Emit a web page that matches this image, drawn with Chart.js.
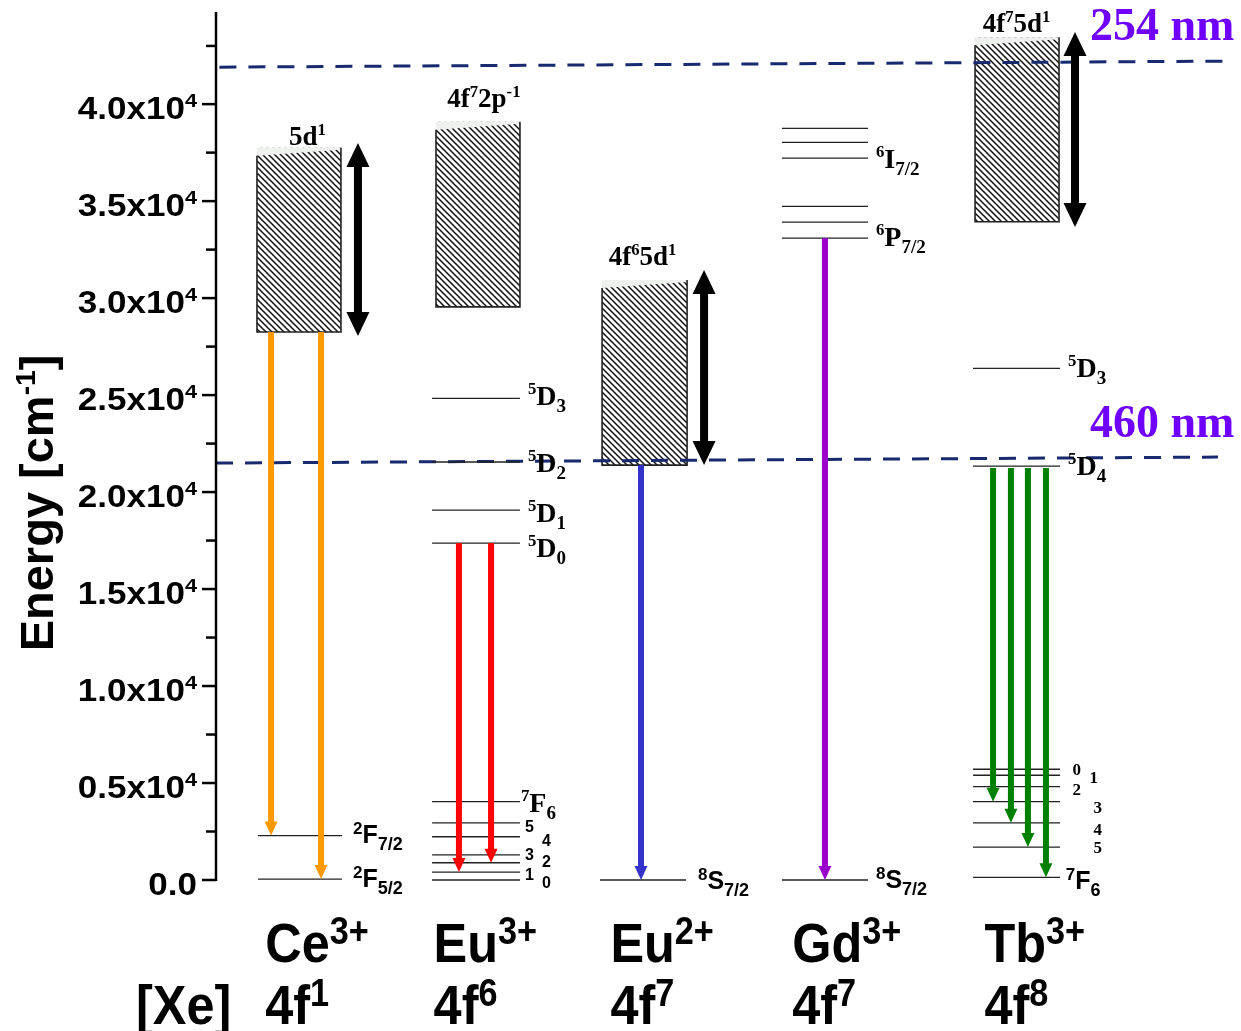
<!DOCTYPE html>
<html>
<head>
<meta charset="utf-8">
<script src="https://cdn.jsdelivr.net/npm/chart.js@4.4.1/dist/chart.umd.min.js"></script>
<style>
  html, body { margin: 0; padding: 0; background: #fff; }
  canvas { display: block; }
</style>
</head>
<body>
<canvas id="levels" width="1241" height="1031"></canvas>
<script>
// ion columns (x in column units, energy in cm-1)
const ionNames = ['Ce', 'Eu', 'Eu', 'Gd', 'Tb'];
const ionCharges = ['3+', '3+', '2+', '3+', '3+'];
const ionConfigs = ['4f^{1}', '4f^{6}', '4f^{7}', '4f^{7}', '4f^{8}'];
const ionLabelX = [0.29, 1.28, 2.32, 3.39, 4.52];

const levelSpans = [[0.247, 0.741], [1.271, 1.788], [2.259, 2.765], [3.329, 3.835], [4.453, 4.965]];
const ceLevels = [50, 2290];
const eu3Levels = [0, 410, 890, 1300, 2230, 2950, 4040, 17370, 19070, 21550, 24830];
const eu2Levels = [0];
const gdLevels = [0, 33090, 33920, 34730, 37220, 38030, 38750];
const tbLevels = [140, 1700, 2950, 4040, 4810, 5400, 5710, 21340, 26380];

// 5d / charge-transfer bands
const bandX = [[0.241, 0.735], [1.294, 1.788], [2.271, 2.771], [4.465, 4.959]];
const bandLow = [28250, 29550, 21390, 33940];
const bandHigh = [37750, 39090, 30930, 43450];
const bandNames = ['5d^{1}', '4f^{7}2p^{-1}', '4f^{6}5d^{1}', '4f^{7}5d^{1}'];
const bandNameX = [0.43, 1.36, 2.31, 4.51];
const bandNameY = [37890, 39850, 31700, 43720];

// double arrows (band width)
const widthArrowX = [0.835, 2.871, 5.053];
const widthArrowTop = [38000, 31450, 43720];
const widthArrowBottom = [28050, 21400, 33670];

// emission arrows
const emitX = [0.324, 0.618, 1.429, 1.618, 2.5, 3.582, 4.571, 4.676, 4.776, 4.882];
const emitFrom = [28250, 28250, 17370, 17370, 21390, 33090, 21240, 21240, 21240, 21240];
const emitTo = [2290, 50, 410, 890, 0, 0, 4040, 2950, 1700, 140];
const emitColors = ['#ff9900', '#ff9900', '#ff0000', '#ff0000', '#3333cc', '#9900cc',
                    '#008000', '#008000', '#008000', '#008000'];

// excitation wavelengths (dashed)
const dashX = [[0.02, 5.935], [0.0, 5.894]];
const dashY = [[41907, 42216], [21495, 21804]];
const dashNames = ['254 nm', '460 nm'];
const dashNameX = [5.141, 5.141];
const dashNameY = [43310, 22840];

// term labels: [x, y, text, font]
const termLabels = [
  [0.806, 1910, '^{2}F_{7/2}', 'sans'], [0.806, -360, '^{2}F_{5/2}', 'sans'],
  [1.835, 24490, '^{5}D_{3}', 'serif'], [1.835, 21030, '^{5}D_{2}', 'serif'],
  [1.835, 18460, '^{5}D_{1}', 'serif'], [1.835, 16650, '^{5}D_{0}', 'serif'],
  [1.794, 3510, '^{7}F_{6}', 'serif'],
  [2.835, -460, '^{8}S_{7/2}', 'sans'],
  [3.882, 36710, '^{6}I_{7/2}', 'serif'], [3.882, 32690, '^{6}P_{7/2}', 'serif'],
  [3.882, -410, '^{8}S_{7/2}', 'sans'],
  [5.012, 25930, '^{5}D_{3}', 'serif'], [5.012, 20880, '^{5}D_{4}', 'serif'],
  [4.999, -460, '^{7}F_{6}', 'sans']
];
// J numbers of the 7F multiplets
const eu3J = ['5', '4', '3', '2', '1', '0'];
const eu3JX = [1.818, 1.918, 1.818, 1.918, 1.818, 1.918];
const eu3JY = [2470, 1750, 1030, 670, 0, -410];
const tbJ = ['0', '1', '2', '3', '4', '5'];
const tbJX = [5.038, 5.138, 5.038, 5.162, 5.162, 5.162];
const tbJY = [5410, 4990, 4380, 3450, 2320, 1390];

const majorTicks = [0, 5000, 10000, 15000, 20000, 25000, 30000, 35000, 40000];
const tickLabels = ['0.0', '0.5x10^{4}', '1.0x10^{4}', '1.5x10^{4}', '2.0x10^{4}',
                    '2.5x10^{4}', '3.0x10^{4}', '3.5x10^{4}', '4.0x10^{4}'];
const minorTicks = [2500, 7500, 12500, 17500, 22500, 27500, 32500, 37500, 43000];

const SANS = '"Liberation Sans", Arial, sans-serif';
const SERIF = '"Liberation Serif", "Times New Roman", serif';

function parseRich(s) {
  const out = [];
  const re = /\^\{([^}]*)\}|_\{([^}]*)\}|([^^_]+)/g;
  let m;
  while ((m = re.exec(s))) {
    if (m[1] !== undefined) out.push({ t: m[1], k: 'sup' });
    else if (m[2] !== undefined) out.push({ t: m[2], k: 'sub' });
    else out.push({ t: m[3], k: 'n' });
  }
  return out;
}

function drawRich(ctx, s, x, y, o) {
  const size = o.size, fam = o.family;
  const parts = parseRich(s).map(p => {
    const sz = p.k === 'n' ? size : p.k === 'sup' ? size * (o.supScale || 0.6) : size * (o.subScale || 0.65);
    const dy = p.k === 'sup' ? -size * (o.supRise || 0.4) : p.k === 'sub' ? size * (o.subDrop || 0.22) : 0;
    ctx.font = 'bold ' + sz + 'px ' + fam;
    return { t: p.t, font: ctx.font, dy: dy, w: ctx.measureText(p.t).width };
  });
  const total = parts.reduce((a, p) => a + p.w, 0);
  ctx.save();
  ctx.translate(x, y);
  if (o.rotate) ctx.rotate(o.rotate);
  ctx.scale(o.scaleX || 1, 1);
  ctx.fillStyle = o.color || '#000';
  ctx.textBaseline = 'alphabetic';
  ctx.textAlign = 'left';
  let cx = o.align === 'center' ? -total / 2 : o.align === 'right' ? -total : 0;
  parts.forEach(p => {
    ctx.font = p.font;
    ctx.fillText(p.t, cx, p.dy);
    cx += p.w;
  });
  ctx.restore();
}

// head helper: tip at (x, tip), base at tip - dir*len
function head(ctx, x, tip, dir, w, len) {
  ctx.beginPath();
  ctx.moveTo(x - w / 2, tip - dir * len);
  ctx.lineTo(x + w / 2, tip - dir * len);
  ctx.lineTo(x, tip);
  ctx.closePath();
  ctx.fill();
}

// y0 = start pixel, y1 = tip pixel (downward arrows here)
function arrow(ctx, x, y0, y1, shaft, headW, headL, color, both) {
  ctx.save();
  ctx.fillStyle = color;
  const dir = y1 > y0 ? 1 : -1;
  const a = both ? y0 + dir * (headL - 1) : y0;
  const b = y1 - dir * (headL - 1);
  ctx.fillRect(x - shaft / 2, Math.min(a, b), shaft, Math.abs(b - a));
  head(ctx, x, y1, dir, headW, headL);
  if (both) head(ctx, x, y0, -dir, headW, headL);
  ctx.restore();
}

function hatchTile() {
  const c = document.createElement('canvas');
  c.width = c.height = 6;
  const g = c.getContext('2d');
  g.fillStyle = '#fff';
  g.fillRect(0, 0, 6, 6);
  g.strokeStyle = '#111';
  g.lineWidth = 1.5;
  g.beginPath();
  g.moveTo(-1, -1); g.lineTo(7, 7);
  g.moveTo(-1, 5); g.lineTo(1, 7);
  g.moveTo(5, -1); g.lineTo(7, 1);
  g.stroke();
  return c;
}

const datasets = [];
[ceLevels, eu3Levels, eu2Levels, gdLevels, tbLevels].forEach((lv, i) => {
  lv.forEach(e => {
    datasets.push({
      data: [{ x: levelSpans[i][0], y: e }, { x: levelSpans[i][1], y: e }],
      borderColor: '#222', borderWidth: 1.3, pointRadius: 0, showLine: true, clip: false
    });
  });
});
dashX.forEach((xx, i) => {
  datasets.push({
    data: [{ x: xx[0], y: dashY[i][0] }, { x: xx[1], y: dashY[i][1] }],
    borderColor: '#17296f', borderWidth: 3, borderDash: [17, 12], pointRadius: 0,
    showLine: true, clip: false
  });
});

const diagramPlugin = {
  id: 'diagram',
  beforeDatasetsDraw(chart) {
    const ctx = chart.ctx, xs = chart.scales.x, ys = chart.scales.y;
    const pat = ctx.createPattern(hatchTile(), 'repeat');
    bandX.forEach((bx, i) => {
      const l = xs.getPixelForValue(bx[0]), r = xs.getPixelForValue(bx[1]);
      const t = ys.getPixelForValue(bandHigh[i]), b = ys.getPixelForValue(bandLow[i]);
      ctx.save();
      ctx.fillStyle = pat;
      ctx.fillRect(l, t, r - l, b - t);
      ctx.fillStyle = '#eef1ee';
      ctx.beginPath();
      ctx.moveTo(l, t); ctx.lineTo(r, t); ctx.lineTo(r, t + 2); ctx.lineTo(l, t + 8);
      ctx.closePath();
      ctx.fill();
      ctx.strokeStyle = '#222';
      ctx.lineWidth = 1.6;
      ctx.beginPath();
      ctx.moveTo(l, t + 8); ctx.lineTo(l, b); ctx.lineTo(r, b); ctx.lineTo(r, t);
      ctx.stroke();
      ctx.restore();
      drawRich(ctx, bandNames[i], xs.getPixelForValue(bandNameX[i]), ys.getPixelForValue(bandNameY[i]),
        { size: 27, family: SERIF, supScale: 0.62, supRise: 0.36 });
    });
  },
  afterDatasetsDraw(chart) {
    const ctx = chart.ctx, xs = chart.scales.x, ys = chart.scales.y, area = chart.chartArea;
    const px = v => xs.getPixelForValue(v), py = v => ys.getPixelForValue(v);

    emitX.forEach((x, i) => {
      arrow(ctx, px(x), py(emitFrom[i]), py(emitTo[i]), 6, 13, 14, emitColors[i], false);
    });
    widthArrowX.forEach((x, i) => {
      arrow(ctx, px(x), py(widthArrowTop[i]), py(widthArrowBottom[i]), 8, 23, 24, '#000', true);
    });

    termLabels.forEach(t => {
      const serif = t[3] === 'serif';
      drawRich(ctx, t[2], px(t[0]), py(t[1]), serif
        ? { size: 28, family: SERIF, supScale: 0.6, supRise: 0.38, subScale: 0.68, subDrop: 0.25 }
        : { size: 25, family: SANS, supScale: 0.68, supRise: 0.36, subScale: 0.72, subDrop: 0.28 });
    });
    eu3J.forEach((j, i) => drawRich(ctx, j, px(eu3JX[i]), py(eu3JY[i]), { size: 16, family: SANS }));
    tbJ.forEach((j, i) => drawRich(ctx, j, px(tbJX[i]), py(tbJY[i]), { size: 17, family: SERIF }));

    dashNames.forEach((n, i) => {
      drawRich(ctx, n, px(dashNameX[i]), py(dashNameY[i]), { size: 46, family: SERIF, color: '#6f00ff' });
    });

    // y axis
    const ax = area.left;
    ctx.save();
    ctx.strokeStyle = '#000';
    ctx.lineWidth = 2.5;
    ctx.beginPath();
    ctx.moveTo(ax, area.top);
    ctx.lineTo(ax, area.bottom + 1);
    ctx.stroke();
    majorTicks.forEach(v => {
      ctx.beginPath(); ctx.moveTo(ax - 14, py(v)); ctx.lineTo(ax, py(v)); ctx.stroke();
    });
    minorTicks.forEach(v => {
      ctx.beginPath(); ctx.moveTo(ax - 10, py(v)); ctx.lineTo(ax, py(v)); ctx.stroke();
    });
    ctx.restore();
    majorTicks.forEach((v, i) => {
      drawRich(ctx, tickLabels[i], ax - 19, py(v) + 15,
        { size: 31, family: SANS, align: 'right', scaleX: 1.13, supScale: 0.62, supRise: 0.38 });
    });
    drawRich(ctx, 'Energy [cm^{-1}]', 53, (area.top + area.bottom) / 2 + 57,
      { size: 47, family: SANS, align: 'center', rotate: -Math.PI / 2, supScale: 0.6, supRise: 0.38 });

    // ion labels below the axis
    const ionStyle = { size: 56, family: SANS, scaleX: 0.9, supScale: 0.68, supRise: 0.32 };
    ionNames.forEach((n, i) => {
      drawRich(ctx, n + '^{' + ionCharges[i] + '}', px(ionLabelX[i]), area.bottom + 82, ionStyle);
      drawRich(ctx, ionConfigs[i], px(ionLabelX[i]), area.bottom + 144, ionStyle);
    });
    drawRich(ctx, '[Xe]', px(ionLabelX[0]) - 34, area.bottom + 144,
      Object.assign({}, ionStyle, { align: 'right' }));
  }
};

new Chart(document.getElementById('levels').getContext('2d'), {
  type: 'scatter',
  data: { datasets: datasets },
  options: {
    responsive: false,
    animation: false,
    layout: { padding: { left: 216, right: 5, top: 12, bottom: 151 } },
    plugins: { legend: { display: false }, tooltip: { enabled: false } },
    scales: {
      x: { type: 'linear', min: 0, max: 6, display: false },
      y: { type: 'linear', min: 0, max: 44750, display: false }
    }
  },
  plugins: [diagramPlugin]
});
</script>
</body>
</html>
